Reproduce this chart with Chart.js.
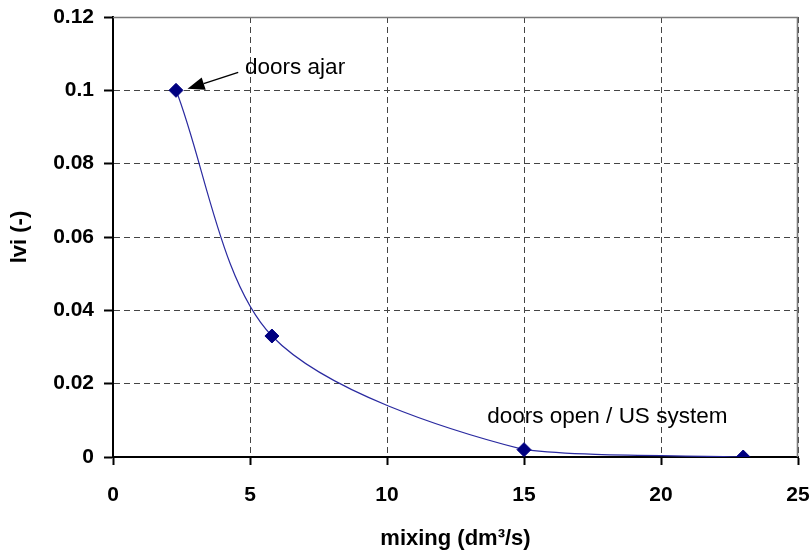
<!DOCTYPE html>
<html>
<head>
<meta charset="utf-8">
<script src="https://cdn.jsdelivr.net/npm/chart.js@4/dist/chart.umd.min.js"></script>
<style>
html,body{margin:0;padding:0;background:#fff;}
#wrap{width:811px;height:555px;position:relative;}
</style>
</head>
<body>
<div id="wrap"><canvas id="c" width="811" height="555"></canvas></div>
<script>
const mixing = [2.3, 5.8, 15, 23];
const lvi = [0.1, 0.033, 0.002, 0.0];
const xTicks = [0, 5, 10, 15, 20, 25];
const yTicks = [0, 0.02, 0.04, 0.06, 0.08, 0.1, 0.12];
const xTitle = 'mixing (dm³/s)';
const yTitle = 'lvi (-)';
const noteTexts = ['doors ajar', 'doors open / US system'];
const noteX = [4.82, 13.66];
const noteY = [0.1062, 0.0111];
const arrowFrom = [4.57, 0.1049];
const arrowTo = [2.72, 0.1004];

const FONT = "'Liberation Sans', Arial, sans-serif";

const framePlugin = {
  id: 'frame',
  beforeDatasetsDraw(chart) {
    const {ctx, chartArea: a} = chart;
    const r = Math.round(a.right) - 0.5;
    const t = Math.round(a.top) + 0.5;
    ctx.save();
    ctx.strokeStyle = '#7a7a7a';
    ctx.lineWidth = 1.6;
    ctx.setLineDash([]);
    ctx.beginPath();
    ctx.moveTo(a.left, t);
    ctx.lineTo(r, t);
    ctx.lineTo(r, a.bottom);
    ctx.stroke();
    ctx.restore();
  },
  afterDraw(chart) {
    const {ctx} = chart;
    const xs = chart.scales.x, ys = chart.scales.y;
    ctx.save();
    ctx.fillStyle = '#000';
    ctx.font = '22.5px ' + FONT;
    ctx.textAlign = 'left';
    ctx.textBaseline = 'middle';
    for (let i = 0; i < noteTexts.length; i++) {
      ctx.fillText(noteTexts[i], xs.getPixelForValue(noteX[i]), ys.getPixelForValue(noteY[i]));
    }
    const x1 = xs.getPixelForValue(arrowFrom[0]), y1 = ys.getPixelForValue(arrowFrom[1]);
    const x2 = xs.getPixelForValue(arrowTo[0]), y2 = ys.getPixelForValue(arrowTo[1]);
    const ang = Math.atan2(y2 - y1, x2 - x1);
    const hl = 17, hw = 6.5;
    const bx = x2 - hl * Math.cos(ang), by = y2 - hl * Math.sin(ang);
    ctx.strokeStyle = '#000';
    ctx.lineWidth = 1.5;
    ctx.beginPath();
    ctx.moveTo(x1, y1);
    ctx.lineTo(bx, by);
    ctx.stroke();
    ctx.beginPath();
    ctx.moveTo(x2, y2);
    ctx.lineTo(bx + hw * Math.sin(ang), by - hw * Math.cos(ang));
    ctx.lineTo(bx - hw * Math.sin(ang), by + hw * Math.cos(ang));
    ctx.closePath();
    ctx.fill();
    ctx.restore();
  }
};

new Chart(document.getElementById('c'), {
  type: 'scatter',
  data: {
    datasets: [{
      data: mixing.map((x, i) => ({x: x, y: lvi[i]})),
      showLine: true,
      tension: 0.3,
      borderColor: '#2a2aa0',
      borderWidth: 1.2,
      pointStyle: 'rectRot',
      pointRadius: 7,
      pointHoverRadius: 7,
      pointBackgroundColor: '#000080',
      pointBorderColor: '#000080',
      pointBorderWidth: 1
    }]
  },
  options: {
    responsive: false,
    animation: false,
    events: [],
    layout: {padding: {top: 17, right: 13, left: 0, bottom: 0}},
    plugins: {legend: {display: false}, tooltip: {enabled: false}},
    scales: {
      x: {
        type: 'linear',
        min: 0, max: 25,
        afterBuildTicks: s => { s.ticks = xTicks.map(v => ({value: v})); },
        afterFit: s => { s.height = 98; s.paddingLeft = 0; s.paddingRight = 0; },
        ticks: {
          color: '#000',
          font: {family: FONT, size: 21, weight: 'bold'},
          padding: 18,
          maxRotation: 0
        },
        grid: {
          color: '#444',
          lineWidth: 1,
          tickColor: '#000',
          tickLength: 8,
          tickWidth: 2
        },
        border: {color: '#000', width: 2, dash: [6, 4]},
        title: {
          display: true,
          text: xTitle,
          color: '#000',
          font: {family: FONT, size: 22, weight: 'bold'},
          padding: {top: 0, bottom: 3}
        }
      },
      y: {
        type: 'linear',
        min: 0, max: 0.12,
        afterBuildTicks: s => { s.ticks = yTicks.map(v => ({value: v})); },
        afterFit: s => { s.width = 113; s.paddingTop = 0; s.paddingBottom = 0; },
        ticks: {
          color: '#000',
          font: {family: FONT, size: 21, weight: 'bold'},
          padding: 10,
          callback: v => String(Math.round(v * 100) / 100)
        },
        grid: {
          color: '#444',
          lineWidth: 1,
          tickColor: '#000',
          tickLength: 9,
          tickWidth: 2
        },
        border: {color: '#000', width: 2, dash: [6, 4]},
        title: {
          display: true,
          text: yTitle,
          color: '#000',
          font: {family: FONT, size: 22, weight: 'bold'},
          padding: {top: 7, bottom: 0}
        }
      }
    }
  },
  plugins: [framePlugin]
});
</script>
</body>
</html>
